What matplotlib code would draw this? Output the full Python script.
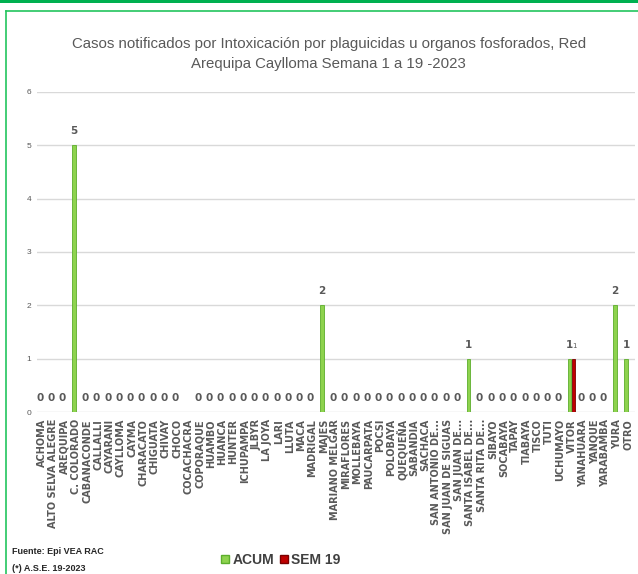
import numpy as np
import matplotlib.pyplot as plt
from matplotlib.lines import Line2D
from matplotlib.patches import Rectangle

distritos = ["ACHOMA", "ALTO SELVA ALEGRE", "AREQUIPA", "C. COLORADO", "CABANACONDE",
             "CALLALLI", "CAYARANI", "CAYLLOMA", "CAYMA", "CHARACATO", "CHIGUATA",
             "CHIVAY", "CHOCO", "COCACHACRA", "COPORAQUE", "HUAMBO", "HUANCA", "HUNTER",
             "ICHUPAMPA", "JLBYR", "LA JOYA", "LARI", "LLUTA", "MACA", "MADRIGAL", "MAJES",
             "MARIANO MELGAR", "MIRAFLORES", "MOLLEBAYA", "PAUCARPATA", "POCSI", "POLOBAYA",
             "QUEQUEÑA", "SABANDIA", "SACHACA", "SAN ANTONIO DE...", "SAN JUAN DE SIGUAS",
             "SAN JUAN DE...", "SANTA ISABEL DE...", "SANTA RITA DE...", "SIBAYO", "SOCABAYA",
             "TAPAY", "TIABAYA", "TISCO", "TUTI", "UCHUMAYO", "VITOR", "YANAHUARA", "YANQUE",
             "YARABAMBA", "YURA", "OTRO"]

nan = np.nan
acum = [0, 0, 0, 5, 0, 0, 0, 0, 0, 0, 0, 0, 0, nan, 0, 0, 0, 0, 0, 0, 0, 0, 0, 0, 0, 2,
        0, 0, 0, 0, 0, 0, 0, 0, 0, 0, 0, 0, 1, 0, 0, 0, 0, 0, 0, 0, 0, 1, 0, 0, 0, 2, 1]
sem19 = {"VITOR": 1}

titulo = ("Casos notificados por Intoxicación por plaguicidas u organos fosforados, Red\n"
          "Arequipa Caylloma Semana 1 a 19 -2023")

sans = ["Liberation Sans", "DejaVu Sans"]
gris = "#595959"

fig = plt.figure(figsize=(6.38, 5.74), dpi=100)
ax = fig.add_axes([0.058, 0.282, 0.937, 0.558])

x = np.arange(len(distritos))
acum_arr = np.array(acum, dtype=float)
sem_arr = np.array([sem19.get(d, nan) for d in distritos], dtype=float)

w = 0.3
ax.bar(x - 0.17, np.nan_to_num(acum_arr), w, color="#8ed34e", edgecolor="#5cae2c",
       linewidth=0.6, zorder=3)
ax.bar(x + 0.17, np.nan_to_num(sem_arr), w, color="#c00000", edgecolor="#7a0000",
       linewidth=0.6, zorder=3)

for i, v in enumerate(acum_arr):
    if np.isnan(v):
        continue
    ax.annotate(f"{int(v)}", (x[i] - 0.17, v), xytext=(0, 10), textcoords="offset points",
                ha="center", va="center", fontsize=7.5, fontweight="bold", color=gris,
                family="DejaVu Sans")
for i, v in enumerate(sem_arr):
    if np.isnan(v):
        continue
    ax.annotate(f"{int(v)}", (x[i] + 0.25, v), xytext=(0, 9), textcoords="offset points",
                ha="center", va="center", fontsize=5, color=gris, family="DejaVu Sans")

ax.set_ylim(0, 6)
ax.set_xlim(-0.44, 52.6)
ax.set_yticks(range(7))
ax.set_yticklabels([str(i) for i in range(7)], fontsize=6, color=gris, family=sans)
ax.set_xticks(x)
ax.set_xticklabels(distritos, rotation=90, fontsize=7, fontweight="bold", color=gris,
                   family="DejaVu Sans")
ax.tick_params(length=0, pad=4)
ax.tick_params(axis="x", pad=5)
ax.grid(axis="y", color="#d9d9d9", linewidth=1, zorder=0)
for s in ax.spines.values():
    s.set_visible(False)

fig.text(0.515, 0.906, titulo, ha="center", va="center", fontsize=10.8, color=gris,
         family=sans, linespacing=1.6)

# leyenda
h1 = Line2D([], [], marker="s", linestyle="", markersize=6, markerfacecolor="#8ed34e",
            markeredgecolor="#5cae2c")
h2 = Line2D([], [], marker="s", linestyle="", markersize=6, markerfacecolor="#c00000",
            markeredgecolor="#7a0000")
fig.legend([h1, h2], ["ACUM", "SEM 19"], loc="center", bbox_to_anchor=(0.44, 0.024),
           ncol=2, frameon=False, handlelength=0.6, handletextpad=0.2, columnspacing=0.4,
           prop={"family": sans, "size": 10, "weight": "bold"}, labelcolor="#404040")

fig.text(0.019, 0.040, "Fuente: Epi VEA RAC", fontsize=6.5, family=sans,
         fontweight="bold", color="#262626", va="center")
fig.text(0.019, 0.010, "(*) A.S.E. 19-2023", fontsize=6.5, family=sans,
         fontweight="bold", color="#262626", va="center")

# marco verde
fig.add_artist(Rectangle((0, 1 - 3 / 574), 1, 3 / 574, transform=fig.transFigure,
                         color="#00b050", lw=0))
fig.add_artist(Line2D([6 / 638, 6 / 638], [0, 1 - 10.5 / 574], transform=fig.transFigure,
                      color="#22c55e", lw=1.2))
fig.add_artist(Line2D([6 / 638, 1], [1 - 10.5 / 574, 1 - 10.5 / 574],
                      transform=fig.transFigure, color="#22c55e", lw=1.2))

fig.savefig("out.png", dpi=100)
